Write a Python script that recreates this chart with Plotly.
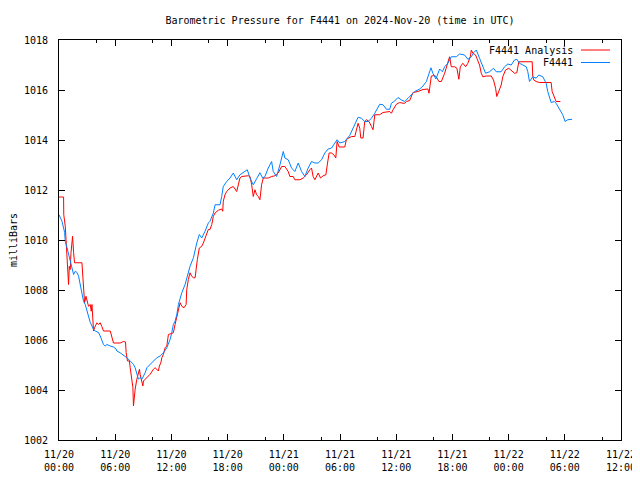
import pandas as pd
import plotly.graph_objects as go

title_text = "Barometric Pressure for F4441 on 2024-Nov-20 (time in UTC)"
y_title = "milliBars"
station_name = "F4441"
analysis_name = "F4441 Analysis"
start_time = "2024-11-20 00:00"

# hours since 2024-11-20 00:00 UTC, station observations
obs_hours = [0.00, 0.32, 0.60, 0.67, 0.85, 1.02, 1.20, 1.39, 1.56, 1.74, 1.92, 2.09, 2.27, 2.45, 2.62, 2.80,
             2.98, 3.15, 3.34, 3.52, 3.69, 3.87, 4.22, 4.40, 4.58, 4.75, 4.93, 5.12, 5.47, 5.82, 6.07, 6.18,
             6.53, 7.07, 7.25, 7.60, 7.95, 8.13, 8.31, 8.48, 8.66, 8.85, 9.02, 9.20, 9.38, 9.73, 10.08, 10.44,
             10.80, 11.15, 11.51, 11.86, 12.04, 12.21, 12.39, 12.58, 12.75, 13.11, 13.46, 13.64, 13.99, 14.35,
             14.53, 14.71, 14.98, 15.24, 15.59, 15.94, 16.12, 16.48, 16.66, 17.19, 17.37, 17.54, 17.90, 18.26,
             18.61, 18.97, 19.32, 19.86, 20.10, 20.39, 20.74, 21.10, 21.45, 21.74, 21.99, 22.34, 22.70, 22.87,
             23.23, 23.59, 23.94, 24.12, 24.47, 24.83, 25.18, 25.54, 25.90, 26.25, 26.60, 26.96, 27.32, 27.67,
             28.03, 28.38, 28.73, 29.10, 29.45, 29.69, 29.98, 30.51, 31.05, 31.58, 31.93, 32.29, 32.64, 33.00,
             33.36, 33.71, 34.24, 34.59, 34.96, 35.31, 35.49, 35.84, 36.19, 36.56, 36.91, 37.26, 37.62, 37.97,
             38.51, 38.86, 39.22, 39.50, 39.71, 39.92, 40.24, 40.64, 40.93, 41.17, 41.52, 41.88, 42.42, 42.77,
             43.30, 43.65, 44.02, 44.26, 44.55, 44.90, 45.25, 45.54, 45.97, 46.39, 46.68, 47.21, 47.57, 47.92,
             48.28, 48.63, 48.88, 49.16, 49.52, 49.88, 50.05, 50.23, 50.58, 50.94, 51.22, 51.65, 52.01, 52.18,
             52.54, 52.89, 53.07, 53.42, 53.78, 54.03, 54.31, 54.78]
obs_mbar = [1011.01, 1010.75, 1010.30, 1009.95, 1009.70, 1009.42, 1009.15, 1008.82, 1008.62, 1008.75, 1008.70,
            1008.55, 1008.15, 1007.75, 1007.55, 1007.42, 1007.15, 1006.90, 1006.70, 1006.56, 1006.42, 1006.36,
            1006.30, 1006.16, 1005.96, 1005.82, 1005.76, 1005.82, 1005.76, 1005.72, 1005.65, 1005.56, 1005.49,
            1005.36, 1005.29, 1005.16, 1005.03, 1004.89, 1004.63, 1004.43, 1004.50, 1004.43, 1004.56, 1004.69,
            1004.89, 1005.03, 1005.16, 1005.29, 1005.36, 1005.49, 1005.69, 1006.02, 1006.29, 1006.62, 1006.75,
            1007.02, 1007.42, 1007.89, 1008.22, 1008.49, 1008.95, 1009.29, 1009.62, 1009.88, 1010.22, 1010.08,
            1010.35, 1010.68, 1010.75, 1011.08, 1011.41, 1011.41, 1011.74, 1012.14, 1012.34, 1012.48, 1012.68,
            1012.41, 1012.61, 1012.74, 1012.81, 1012.48, 1012.21, 1012.45, 1012.69, 1012.48, 1012.54, 1012.88,
            1013.14, 1012.74, 1012.54, 1013.01, 1013.54, 1013.28, 1013.21, 1012.88, 1012.74, 1013.08, 1012.74,
            1012.54, 1012.88, 1013.14, 1013.08, 1013.08, 1013.21, 1013.48, 1013.64, 1013.68, 1013.88, 1014.01,
            1013.88, 1013.94, 1014.19, 1014.61, 1014.91, 1014.87, 1014.74, 1014.74, 1014.87, 1015.07, 1015.43,
            1015.41, 1015.23, 1015.23, 1015.47, 1015.56, 1015.70, 1015.60, 1015.54, 1015.67, 1015.83, 1015.94,
            1016.04, 1016.16, 1016.34, 1016.67, 1016.89, 1016.67, 1016.44, 1016.84, 1016.73, 1016.93, 1017.07,
            1017.33, 1017.33, 1017.44, 1017.40, 1017.23, 1017.33, 1017.49, 1017.60, 1017.27, 1016.93, 1016.67,
            1016.73, 1016.87, 1016.73, 1016.73, 1016.93, 1017.04, 1017.00, 1017.20, 1017.23, 1017.07, 1017.00,
            1016.93, 1016.73, 1016.34, 1016.53, 1016.47, 1016.60, 1016.53, 1016.27, 1015.94, 1015.50, 1015.54,
            1015.47, 1015.27, 1015.01, 1014.74, 1014.81, 1014.83]

# hours since 2024-11-20 00:00 UTC, analysis
ana_hours = [0.00, 0.49, 0.51, 0.67, 0.75, 0.85, 0.96, 1.02, 1.10, 1.20, 1.28, 1.39, 1.45, 1.56, 1.66, 2.45,
             2.52, 2.62, 2.73, 2.88, 2.98, 3.15, 3.34, 3.44, 3.52, 3.58, 3.69, 3.79, 3.87, 4.05, 4.22, 4.40,
             4.58, 4.75, 5.47, 5.65, 5.82, 6.53, 6.88, 7.10, 7.17, 7.31, 7.52, 7.60, 7.78, 7.89, 7.95, 8.03,
             8.13, 8.31, 8.48, 8.59, 8.66, 8.85, 8.95, 9.02, 9.20, 9.38, 9.73, 10.08, 10.26, 10.44, 10.61,
             10.72, 10.87, 10.98, 11.15, 11.33, 11.51, 11.68, 12.04, 12.21, 12.39, 12.58, 12.75, 12.93, 13.11,
             13.35, 13.57, 13.64, 13.81, 13.99, 14.17, 14.35, 14.53, 14.63, 14.77, 14.98, 15.24, 15.41, 15.70,
             15.94, 16.12, 16.31, 16.48, 16.66, 17.01, 17.37, 17.48, 17.54, 17.72, 17.90, 18.26, 18.61, 18.97,
             19.14, 19.32, 19.50, 20.21, 20.39, 20.57, 20.74, 20.92, 21.10, 21.27, 21.45, 21.63, 21.81, 22.34,
             22.70, 23.05, 23.40, 23.77, 24.12, 24.47, 24.65, 25.00, 25.18, 25.72, 26.07, 26.43, 26.78, 26.96,
             27.13, 27.32, 27.67, 27.92, 28.20, 28.49, 28.67, 28.84, 29.10, 29.34, 29.55, 29.69, 29.91, 30.51,
             30.69, 31.23, 31.58, 31.76, 31.93, 32.11, 32.22, 32.46, 32.64, 32.83, 33.10, 33.36, 33.53, 33.71,
             34.24, 34.59, 35.31, 35.49, 35.66, 36.02, 36.37, 36.73, 36.91, 37.09, 37.44, 37.79, 38.32, 38.86,
             39.39, 39.50, 39.75, 40.10, 40.29, 40.56, 40.82, 41.17, 41.35, 41.70, 41.88, 42.24, 42.48, 42.69,
             42.84, 43.12, 43.41, 43.65, 43.91, 44.02, 44.19, 44.47, 44.61, 44.90, 45.08, 45.25, 45.61, 46.15,
             46.39, 46.61, 46.74, 46.96, 47.21, 47.38, 47.67, 48.02, 48.45, 48.63, 48.88, 49.09, 50.52, 50.58,
             50.69, 50.94, 51.29, 52.54, 52.65, 52.89, 53.07, 53.53]
ana_mbar = [1011.72, 1011.72, 1011.01, 1010.55, 1010.02, 1009.35, 1008.42, 1008.22, 1008.95, 1008.82, 1009.49,
            1009.95, 1010.15, 1009.49, 1009.09, 1009.09, 1008.69, 1008.02, 1007.49, 1007.75, 1007.62, 1007.35,
            1007.42, 1007.15, 1007.42, 1007.09, 1006.36, 1006.49, 1006.56, 1006.69, 1006.62, 1006.69, 1006.54,
            1006.36, 1006.36, 1006.12, 1005.88, 1005.88, 1005.94, 1005.92, 1005.49, 1005.16, 1005.16, 1004.89,
            1004.50, 1004.10, 1003.36, 1003.76, 1004.03, 1004.43, 1004.76, 1004.83, 1004.63, 1004.30, 1004.16,
            1004.36, 1004.43, 1004.46, 1004.63, 1004.83, 1004.89, 1004.83, 1004.76, 1004.96, 1005.09, 1005.29,
            1005.43, 1005.69, 1005.76, 1006.22, 1006.29, 1006.29, 1006.62, 1006.89, 1007.15, 1007.49, 1007.35,
            1007.29, 1007.42, 1008.02, 1008.42, 1008.69, 1008.55, 1008.49, 1008.49, 1008.82, 1009.22, 1009.68,
            1009.75, 1009.88, 1010.22, 1010.42, 1010.42, 1010.62, 1010.95, 1011.08, 1011.19, 1011.24, 1011.15,
            1011.55, 1011.81, 1011.94, 1012.08, 1012.14, 1011.94, 1012.21, 1012.48, 1012.54, 1012.57, 1012.54,
            1012.21, 1011.74, 1012.01, 1011.81, 1011.74, 1011.61, 1012.21, 1012.48, 1012.48, 1012.54, 1012.57,
            1012.68, 1012.94, 1012.94, 1012.74, 1012.54, 1012.54, 1012.41, 1012.41, 1012.48, 1012.61, 1012.81,
            1012.88, 1012.54, 1012.41, 1012.68, 1012.48, 1012.57, 1012.61, 1013.08, 1013.48, 1013.48, 1013.41,
            1013.28, 1013.94, 1013.72, 1013.72, 1014.03, 1014.14, 1014.14, 1014.41, 1014.67, 1014.47, 1014.08,
            1014.08, 1014.74, 1014.81, 1014.74, 1014.54, 1014.41, 1015.01, 1015.01, 1015.10, 1015.14, 1015.07,
            1015.21, 1015.43, 1015.50, 1015.47, 1015.47, 1015.54, 1015.58, 1015.90, 1015.94, 1016.02, 1016.04,
            1015.87, 1016.56, 1016.58, 1016.52, 1016.34, 1016.34, 1016.67, 1016.93, 1017.33, 1016.93, 1016.93,
            1016.87, 1016.43, 1016.93, 1017.07, 1016.93, 1017.07, 1017.33, 1017.60, 1017.47, 1017.40, 1017.27,
            1017.00, 1016.67, 1016.53, 1016.56, 1016.56, 1016.40, 1016.07, 1015.74, 1015.94, 1016.20, 1016.53,
            1016.80, 1016.87, 1016.73, 1016.67, 1016.69, 1017.13, 1017.13, 1016.53, 1016.40, 1016.34, 1016.30,
            1016.30, 1015.94, 1015.74, 1015.54, 1015.54]

y_range = [1002, 1018]
x_span_hours = 60
major_tick_hours = 6
minor_tick_offset_hours = 4

base = pd.Timestamp(start_time)
obs_t = base + pd.to_timedelta(obs_hours, unit="h")
ana_t = base + pd.to_timedelta(ana_hours, unit="h")

RED = "#ff0000"
BLUE = "#0080ff"
FONT = "DejaVu Sans Mono"

fig = go.Figure()
fig.add_trace(go.Scatter(x=ana_t, y=ana_mbar, mode="lines", name=analysis_name,
                         line=dict(color=RED, width=1), showlegend=False))
fig.add_trace(go.Scatter(x=obs_t, y=obs_mbar, mode="lines", name=station_name,
                         line=dict(color=BLUE, width=1), showlegend=False))

ms_hour = 3600 * 1000
# page has an 8px body margin; the figure is sized so the plot box lands at x 59..621, y 40..440
OFF = 8
L, R, T, B = 59 - OFF, 19, 40 - OFF, 40
W, H = 640 - OFF, 480 - OFF
pw, ph = W - L - R, H - T - B

fig.update_layout(
    width=W, height=H,
    margin=dict(l=L, r=R, t=T, b=B, autoexpand=False),
    paper_bgcolor="white", plot_bgcolor="white",
    font=dict(family=FONT, size=10, color="black"),
    title=dict(text=title_text, x=(L + pw / 2) / W, xanchor="center",
               y=1 - (20 - OFF) / H, yanchor="middle", yref="container",
               font=dict(family=FONT, size=10, color="black")),
    xaxis=dict(
        type="date", automargin=False,
        range=[base, base + pd.Timedelta(hours=x_span_hours)],
        tick0=base, dtick=major_tick_hours * ms_hour,
        tickformat="%m/%d<br>%H:%M",
        ticks="inside", ticklen=6, tickcolor="black", tickwidth=1,
        showline=True, linecolor="black", linewidth=1, mirror="ticks",
        showgrid=False, zeroline=False,
        ticklabelstandoff=5,
        tickfont=dict(family=FONT, size=10, color="black"),
        minor=dict(ticks="inside", ticklen=3, tickcolor="black",
                   tick0=base + pd.Timedelta(hours=minor_tick_offset_hours),
                   dtick=major_tick_hours * ms_hour, showgrid=False),
    ),
    yaxis=dict(
        range=y_range, dtick=2, tick0=1002, automargin=False,
        ticks="inside", ticklen=6, tickcolor="black", tickwidth=1,
        showline=True, linecolor="black", linewidth=1, mirror="ticks",
        showgrid=False, zeroline=False,
        ticklabelstandoff=8,
        tickfont=dict(family=FONT, size=10, color="black"),
        title=dict(text=y_title, standoff=10, font=dict(family=FONT, size=10, color="black")),
    ),
)

# gnuplot-style key: text right-aligned, line sample on the right
key_text_x = (575 - OFF - L) / pw
key_x0 = (581 - OFF - L) / pw
key_x1 = (610 - OFF - L) / pw
for name, color, ypx in [(analysis_name, RED, 50), (station_name, BLUE, 62.5)]:
    yp = 1 - (ypx - OFF - T) / ph
    fig.add_annotation(x=key_text_x, y=yp, xref="paper", yref="paper", text=name,
                       showarrow=False, xanchor="right", yanchor="middle",
                       font=dict(family=FONT, size=10, color="black"))
    fig.add_shape(type="line", xref="paper", yref="paper", x0=key_x0, x1=key_x1, y0=yp, y1=yp,
                  line=dict(color=color, width=1))

fig.write_html("out.html")
